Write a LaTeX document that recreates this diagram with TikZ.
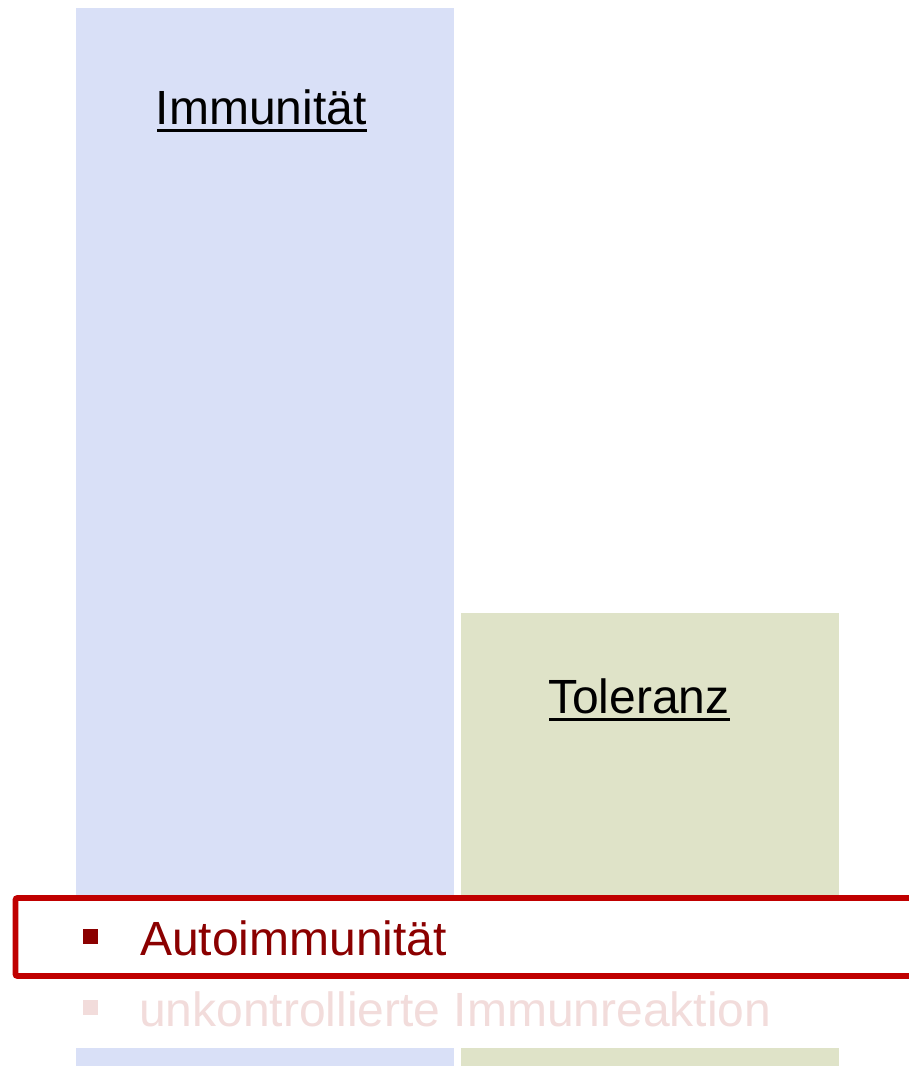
\documentclass[tikz,border=0pt]{standalone}
\usepackage{fontspec}
\setmainfont{Liberation Sans}
\definecolor{barblue}{HTML}{D9E0F7}
\definecolor{bargreen}{HTML}{DFE3C8}
\definecolor{boxred}{HTML}{C00000}
\definecolor{textred}{HTML}{8B0000}
\definecolor{textpink}{HTML}{F2DCDB}
\tikzset{
  title/.style={anchor=base west, inner sep=0pt, font=\fontsize{48}{58}\selectfont, text=black},
  item/.style={anchor=base west, inner sep=0pt, font=\fontsize{48}{58}\selectfont},
  uline/.style={line width=2.6pt, black},
}
\begin{document}
\begin{tikzpicture}[x=1pt,y=-1pt]
\useasboundingbox (0,0) rectangle (909,1066);
\clip (0,0) rectangle (909,1066);
% bars
\fill[barblue] (76,8) rectangle (454,1066);
\fill[bargreen] (461,613) rectangle (839,1066);
% white band behind the list
\fill[white] (0,895) rectangle (909,1048);
% titles
\node[title] (imm) at (155.5,124) {Immunität};
\draw[uline] ([xshift=1.5pt,yshift=-6.5pt]imm.base west) -- ([yshift=-6.5pt]imm.base east);
\node[title] (tol) at (548,713) {Toleranz};
\draw[uline] ([xshift=1pt,yshift=-6.5pt]tol.base west) -- ([yshift=-6.5pt]tol.base east);
% highlighted box
\draw[boxred, line width=5.8pt, rounded corners=2pt] (15.5,898) rectangle (930,976);
% bullets
\fill[textred] (83,929) rectangle (98,944);
\node[item, text=textred] (auto) at (140,955) {Autoimmunität};
\fill[textpink] (83,1000) rectangle (98,1015);
\node[item, text=textpink] (unk) at (139,1026) {unkontrollierte Immunreaktion};
\end{tikzpicture}
\end{document}
